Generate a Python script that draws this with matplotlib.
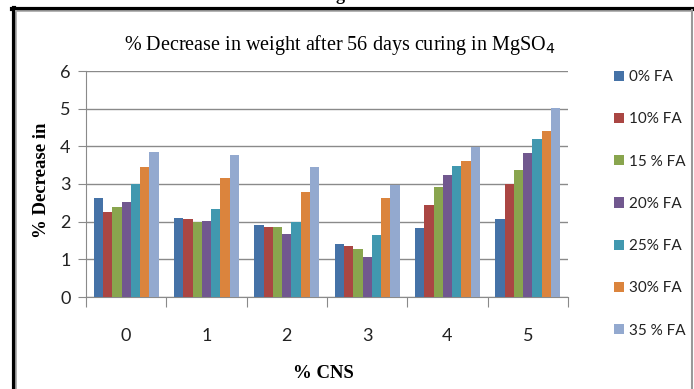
import numpy as np
import matplotlib.pyplot as plt
from matplotlib.lines import Line2D

cns = ['0', '1', '2', '3', '4', '5']
series = ['0% FA', '10% FA', '15 % FA', '20% FA', '25% FA', '30% FA', '35 % FA']
colors = ['#4572A7', '#AA4643', '#89A54E', '#71588F', '#4198AF', '#DB843D', '#93A9CF']

fa0 = [2.62, 2.11, 1.90, 1.42, 1.82, 2.06]
fa10 = [2.25, 2.06, 1.85, 1.35, 2.44, 2.99]
fa15 = [2.38, 2.00, 1.87, 1.28, 2.92, 3.37]
fa20 = [2.53, 2.02, 1.67, 1.07, 3.24, 3.81]
fa25 = [3.00, 2.33, 1.99, 1.64, 3.48, 4.20]
fa30 = [3.46, 3.15, 2.80, 2.62, 3.61, 4.40]
fa35 = [3.84, 3.76, 3.46, 2.98, 3.99, 5.02]
values = [fa0, fa10, fa15, fa20, fa25, fa30, fa35]

tick_font = ['Lato', 'DejaVu Sans']
serif = ['Liberation Serif', 'DejaVu Serif']

fig = plt.figure(figsize=(6.94, 3.89), dpi=100)
ax = fig.add_axes([86 / 694, 1 - 297 / 389, 482 / 694, 226 / 389])

x = np.arange(len(cns))
group = 0.81
w = group / len(series)
for i, (name, vals) in enumerate(zip(series, values)):
    ax.bar(x - group / 2 + w * (i + 0.5), vals, width=w, color=colors[i],
           label=name, edgecolor='none', zorder=3)

ax.set_xlim(-0.5, len(cns) - 0.5)
ax.set_ylim(0, 6)
ax.set_yticks(range(7))
ax.yaxis.grid(True, color='#8a8a8a', linewidth=1.0, zorder=0)
ax.tick_params(axis='y', length=6, color='#8a8a8a', labelsize=13, pad=5)

# category boundaries get the tick marks, labels sit at the centres
ax.set_xticks(np.arange(-0.5, len(cns)), minor=False)
ax.set_xticklabels([''] * (len(cns) + 1))
ax.set_xticks(x, minor=True)
ax.set_xticklabels(cns, minor=True)
ax.tick_params(axis='x', which='major', length=7, color='#8a8a8a')
ax.tick_params(axis='x', which='minor', length=0, labelsize=13, pad=22)
for lab in ax.get_xticklabels(minor=True) + ax.get_yticklabels():
    lab.set_family(tick_font)
    lab.set_color('#222222')

for s in ['top', 'right']:
    ax.spines[s].set_visible(False)
for s in ['left', 'bottom']:
    ax.spines[s].set_color('#8a8a8a')

fig.text(340 / 694, 1 - 45 / 389, '% Decrease in weight after 56 days curing in MgSO$_4$',
         ha='center', va='center', fontsize=14.5, family=serif)
fig.text(41 / 694, 1 - 180 / 389, '% Decrease in', rotation=90, ha='center', va='center',
         fontsize=13.5, fontweight='bold', family=serif)
fig.text(323 / 694, 1 - 373 / 389, '% CNS', ha='center', va='center',
         fontsize=13.5, fontweight='bold', family=serif)

leg = ax.legend(loc='upper left', bbox_to_anchor=(608 / 694, 1 - 64 / 389),
                bbox_transform=fig.transFigure, frameon=False,
                prop={'family': tick_font, 'size': 11},
                handlelength=0.65, handleheight=0.65, handletextpad=0.35,
                labelspacing=1.85, borderaxespad=0)
for t in leg.get_texts():
    t.set_color('#222222')

# page frame around the chart
fig.add_artist(Line2D([13.5 / 694, 13.5 / 694], [0, 1 - 8 / 389], color='black', lw=3))
fig.add_artist(Line2D([12 / 694, 692 / 694], [1 - 8.5 / 389, 1 - 8.5 / 389], color='black', lw=3))
fig.add_artist(Line2D([16 / 694, 16 / 694], [0, 1 - 11 / 389], color='#aaaaaa', lw=1.2))
fig.add_artist(Line2D([16 / 694, 692 / 694], [1 - 11 / 389, 1 - 11 / 389], color='#aaaaaa', lw=1.2))
fig.add_artist(Line2D([692 / 694, 692 / 694], [0, 1 - 10 / 389], color='#999999', lw=1.5))
fig.text(340 / 694, 1 + 4 / 389, 'g', ha='center', va='center', fontsize=13,
         fontweight='bold', family=serif)

fig.savefig('out.png', dpi=100)
